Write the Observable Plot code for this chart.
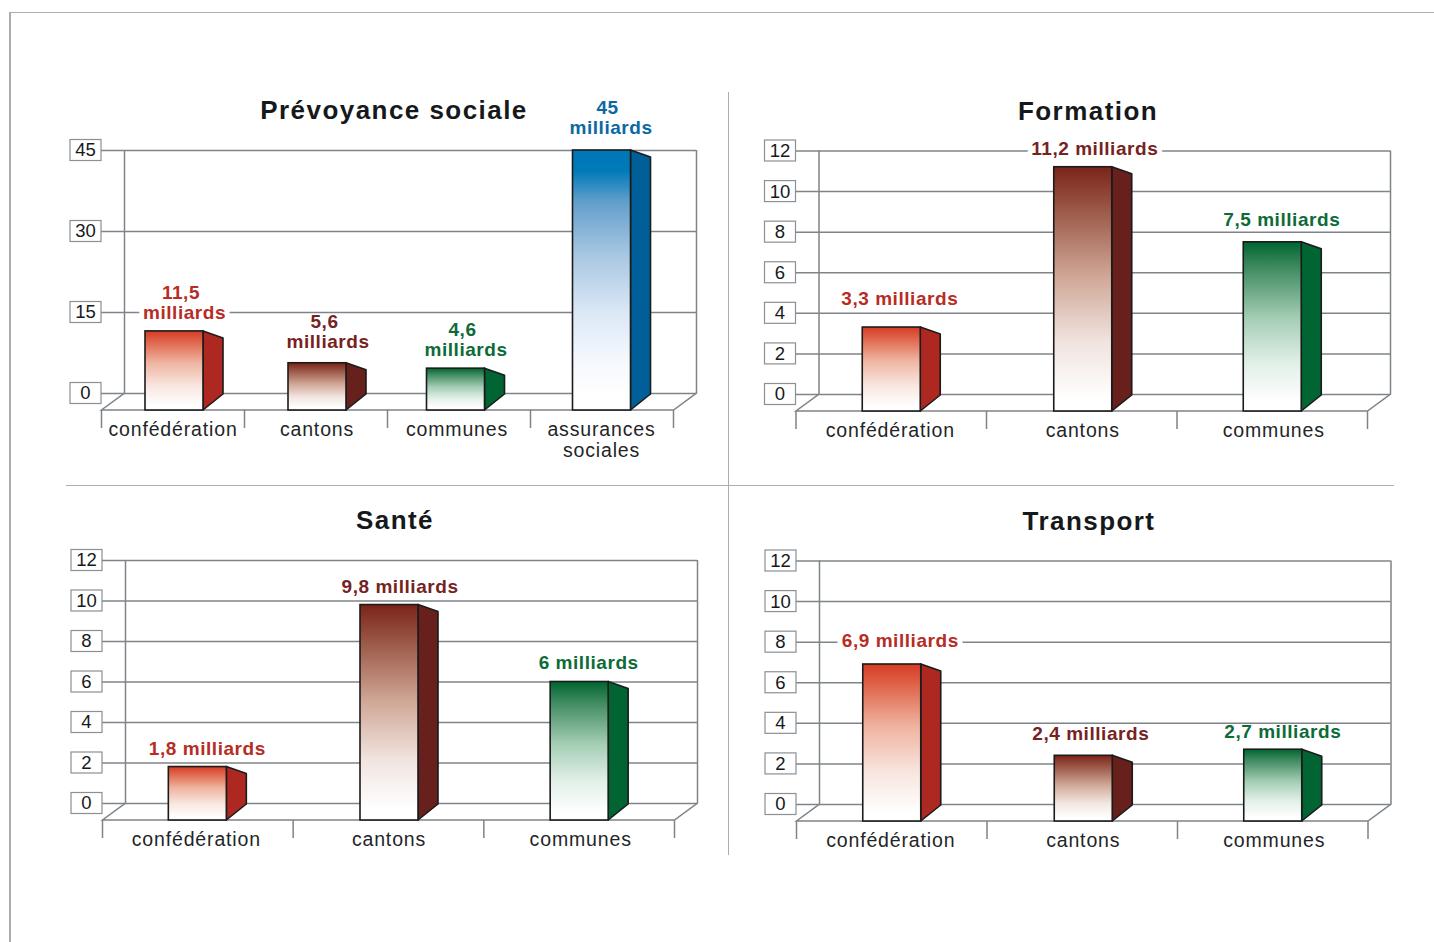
<!DOCTYPE html>
<html lang="fr">
<head>
<meta charset="utf-8">
<title>Dépenses publiques par domaine</title>
<script src="https://cdn.jsdelivr.net/npm/d3@7"></script>
<script src="https://cdn.jsdelivr.net/npm/@observablehq/plot@0.6"></script>
<style>
  html, body { margin: 0; padding: 0; background: #fff; }
  body { width: 1434px; height: 942px; overflow: hidden; position: relative; font-family: "Liberation Sans", Arial, sans-serif; }
  .edge, .rule { position: absolute; background: #a9afae; }
  .panel { position: absolute; }
  .panel svg { display: block; overflow: visible; background: transparent; max-width: none; }
  .panel svg g[font-weight="700"] { letter-spacing: 0.55px; }
  .panel svg g[aria-label="y-axis tick label"] { letter-spacing: 0; }
  .heading { position: absolute; transform: translateX(-50%); white-space: nowrap; font-weight: 700; font-size: 26px; letter-spacing: 1.45px; line-height: 30px; color: #16191b; }
</style>
</head>
<body>
<div class="edge" style="left:9px;top:11.5px;width:1425px;height:1.5px"></div>
<div class="edge" style="left:9px;top:11.5px;width:1.5px;height:931px"></div>
<div class="rule" style="left:728px;top:92px;width:1px;height:763px"></div>
<div class="rule" style="left:66px;top:484.5px;width:1328px;height:1px"></div>
<script>
// Dépenses par domaine et par niveau de l'État, en milliards
const prevoyanceCategories = ["confédération", "cantons", "communes", "assurances sociales"];
const prevoyanceValues = [11.5, 5.6, 4.6, 45];
const prevoyanceTicks = [0, 15, 30, 45];

const formationCategories = ["confédération", "cantons", "communes"];
const formationValues = [3.3, 11.2, 7.5];

const santeCategories = ["confédération", "cantons", "communes"];
const santeValues = [1.8, 9.8, 6];

const transportCategories = ["confédération", "cantons", "communes"];
const transportValues = [6.9, 2.4, 2.7];

const commonTicks = [0, 2, 4, 6, 8, 10, 12];

// Teintes par niveau : faces avant dégradées, faces latérales et libellés
const gradientStops = {
  "confédération": [[0, "#d63b25"], [0.12, "#de6046"], [0.4, "#efb4a0"], [0.7, "#f8e7e1"], [0.95, "#ffffff"]],
  "cantons": [[0, "#7b2419"], [0.15, "#965040"], [0.45, "#d0a797"], [0.72, "#f1e4df"], [0.95, "#ffffff"]],
  "communes": [[0, "#00652f"], [0.15, "#3f8a60"], [0.45, "#a4cdb4"], [0.72, "#e2f0e8"], [0.95, "#ffffff"]],
  "assurances sociales": [[0, "#0076b6"], [0.08, "#007ab8"], [0.2, "#629fcb"], [0.4, "#a7c6e2"], [0.62, "#dae7f5"], [0.8, "#f4f8fe"], [0.95, "#ffffff"]]
};
const sideColors = {"confédération": "#ad2820", "cantons": "#68201c", "communes": "#006532", "assurances sociales": "#005f99"};
const textColors = {"confédération": "#b72d25", "cantons": "#76231f", "communes": "#0d6b38", "assurances sociales": "#0a68a3"};
const gradientIds = {"confédération": "front-rouge", "cantons": "front-brun", "communes": "front-vert", "assurances sociales": "front-bleu"};
const categoryLabelNudge = {"confédération": -1.5, "cantons": -0.5, "communes": 1, "assurances sociales": -0.5};

// Dégradés partagés par les quatre graphiques
const defsHost = d3.select("body").append("svg").attr("width", 0).attr("height", 0).style("position", "absolute");
const defs = defsHost.append("defs");
for (const [category, stops] of Object.entries(gradientStops)) {
  const gradient = defs.append("linearGradient").attr("id", gradientIds[category]).attr("x1", 0).attr("y1", 0).attr("x2", 0).attr("y2", 1);
  for (const [offset, color] of stops) gradient.append("stop").attr("offset", offset).attr("stop-color", color);
}

const gridColor = "#7f8488";
const outline = "#1b1b1b";
const barWidth = 58;
const depthX = 20, topDrop = 7, floorX = 23, floorY = 17;

function drawPanel({title, titleX, titleY, categories, values, ticks, twoLines, frame, shifts, gaps, labelShifts, masked}) {
  const box = {left: Math.round(frame.left) - 40, top: Math.round(frame.top) - 55, width: 700, height: Math.round(frame.bottom - frame.top) + 115};
  const rows = categories.map((category, i) => ({
    category,
    value: values[i],
    shift: shifts[i],
    gap: gaps[i],
    labelShift: labelShifts[i],
    masked: masked[i],
    amount: String(values[i]).replace(".", ",")
  }));
  const frameWidth = frame.right - frame.left;
  const slot = (frame.right - floorX - frame.left) / categories.length;
  const inset = (slot - barWidth) / 2;

  // Murs du fond, sol et graduations de catégories, tracés depuis les échelles
  const stage = (index, {x, y}) => {
    const g = d3.create("svg:g").attr("fill", "none").attr("stroke", gridColor).attr("stroke-width", 1.5);
    const [x0, x1] = x.range();
    const yZero = y(0), yTop = y(ticks[ticks.length - 1]);
    const path = d3.path();
    path.moveTo(x0 + floorX, yTop); path.lineTo(x0 + floorX, yZero); path.lineTo(x0, yZero + floorY);
    path.lineTo(x1, yZero + floorY); path.lineTo(x1 + floorX, yZero); path.lineTo(x1 + floorX, yTop);
    for (const edge of [...categories.map((c) => x(c)), x1]) {
      path.moveTo(edge, yZero + floorY); path.lineTo(edge, yZero + floorY + 18);
    }
    g.append("path").attr("d", path.toString());
    return g.node();
  };

  // Face latérale en perspective d'une barre
  const sideFace = (row) => (index, {x, y}) => {
    const right = x(row.category) + x.bandwidth() / 2 + barWidth / 2 + row.shift;
    const top = y(row.value), bottom = y(0);
    const path = d3.path();
    path.moveTo(right, top); path.lineTo(right + depthX, top + topDrop);
    path.lineTo(right + depthX, bottom + 1); path.lineTo(right, bottom + floorY); path.closePath();
    return d3.create("svg:path").attr("d", path.toString()).attr("fill", sideColors[row.category])
      .attr("stroke", outline).attr("stroke-width", 1.6).attr("stroke-linejoin", "round").node();
  };

  const textStyle = {fontFamily: "'Liberation Sans', Arial, sans-serif", letterSpacing: "0.85px"};
  const valueText = {x: "category", y: "value", lineAnchor: "bottom", fontSize: 19, fontWeight: 700};

  const chart = Plot.plot({
    width: box.width,
    height: box.height,
    marginLeft: frame.left - box.left,
    marginRight: box.left + box.width - frame.right,
    marginTop: frame.top - box.top,
    marginBottom: box.top + box.height - frame.bottom,
    style: textStyle,
    x: {type: "band", domain: categories, range: [frame.left + 0.5, frame.right - floorX + 0.5].map((v) => v - box.left), padding: 0, round: false, axis: null},
    y: {domain: [0, ticks[ticks.length - 1]], axis: null},
    color: {type: "identity"},
    marks: [
      Plot.ruleY(ticks, {stroke: gridColor, strokeWidth: 1.5, strokeOpacity: 1}),
      stage,
      Plot.barY(ticks, {y1: (d) => d, y2: (d) => d, insetTop: -10.5, insetBottom: -10.5, insetLeft: -31, insetRight: frameWidth, fill: "#fff", stroke: "#8b9094", strokeWidth: 1.2}),
      Plot.axisY(ticks, {anchor: "left", tickSize: 0, tickPadding: 16, textAnchor: "middle", fontSize: 18.5, fill: "#16191b", label: null, tickFormat: String}),
      ...rows.flatMap((row) => [
        sideFace(row),
        Plot.barY([row], {x: "category", y1: () => 0, y2: "value", dx: row.shift, insetLeft: inset, insetRight: inset, insetBottom: -floorY, fill: (d) => `url(#${gradientIds[d.category]})`, stroke: outline, strokeWidth: 1.6}),
        Plot.text([row], {x: "category", frameAnchor: "bottom", dx: row.shift + categoryLabelNudge[row.category], dy: 28, lineAnchor: "top", lineHeight: 1.05, text: (d) => d.category.replace(" ", "\n"), fontSize: 19.5, fill: "#232527"})
      ]),
      // Le montant interrompt la grille quand il tombe dessus
      ...rows.filter((row) => row.masked).map((row) => Plot.text([row], {...valueText, dx: row.labelShift, dy: 6 - row.gap, text: (d) => (twoLines ? "milliards" : `${d.amount} milliards`), stroke: "#fff", strokeWidth: 10, fill: "#fff"})),
      ...rows.flatMap((row) => twoLines
        ? [
            Plot.text([row], {...valueText, dx: row.labelShift, dy: 6 - row.gap, text: () => "milliards", fill: (d) => textColors[d.category]}),
            Plot.text([row], {...valueText, dx: row.labelShift - 3.5, dy: 6 - row.gap - 20, text: "amount", fill: (d) => textColors[d.category]})
          ]
        : [Plot.text([row], {...valueText, dx: row.labelShift, dy: 6 - row.gap, text: (d) => `${d.amount} milliards`, fill: (d) => textColors[d.category]})])
    ]
  });

  const wrap = d3.select("body").append("div").attr("class", "panel")
    .style("left", box.left + "px").style("top", box.top + "px");
  wrap.node().append(chart);
  d3.select("body").append("div").attr("class", "heading").text(title)
    .style("left", titleX + "px").style("top", titleY + "px");
}

drawPanel({
  title: "Prévoyance sociale", titleX: 394, titleY: 95,
  categories: prevoyanceCategories, values: prevoyanceValues, ticks: prevoyanceTicks, twoLines: true,
  frame: {left: 101, right: 696, top: 150, bottom: 393},
  shifts: [1, 1, -3.5, -0.5], gaps: [18, 21, 18.5, 23], labelShifts: [11, 11.5, 6.5, 8.5],
  masked: [true, false, false, false]
});
drawPanel({
  title: "Formation", titleX: 1088, titleY: 96,
  categories: formationCategories, values: formationValues, ticks: commonTicks, twoLines: false,
  frame: {left: 795.5, right: 1390, top: 150.5, bottom: 394},
  shifts: [0, 1, 0], gaps: [29, 18, 22.5], labelShifts: [8, 12.5, 9],
  masked: [false, true, false]
});
drawPanel({
  title: "Santé", titleX: 395, titleY: 505,
  categories: santeCategories, values: santeValues, ticks: commonTicks, twoLines: false,
  frame: {left: 102, right: 697, top: 560, bottom: 803},
  shifts: [-0.5, 0.5, 0], gaps: [18.5, 17.6, 19.5], labelShifts: [9, 11, 9],
  masked: [false, false, false]
});
drawPanel({
  title: "Transport", titleX: 1089, titleY: 506,
  categories: transportCategories, values: transportValues, ticks: commonTicks, twoLines: false,
  frame: {left: 796, right: 1390.5, top: 560.5, bottom: 804},
  shifts: [0, 1, 0], gaps: [23.7, 22, 18], labelShifts: [8, 8, 9.5],
  masked: [true, false, false]
});
</script>
</body>
</html>
